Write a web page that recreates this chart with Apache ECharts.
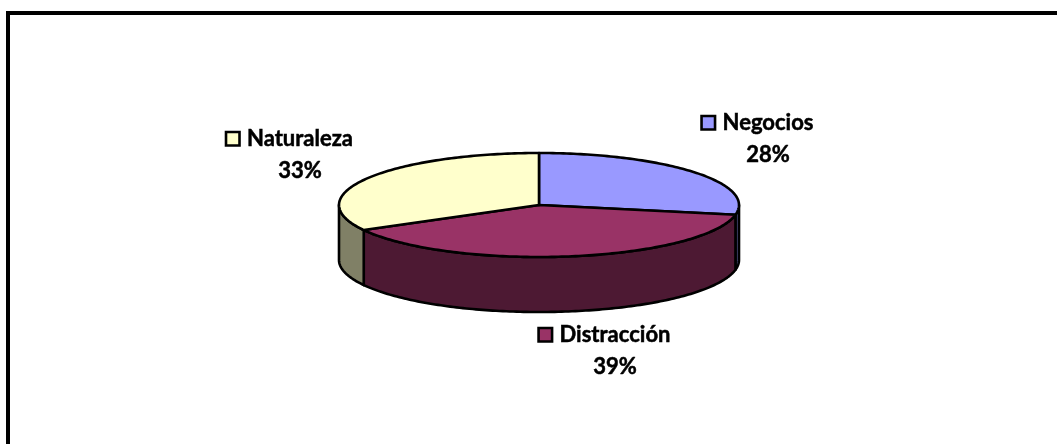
<!DOCTYPE html>
<html>
<head>
<meta charset="utf-8">
<style>
  html, body { margin: 0; padding: 0; background: #fff; }
  #chart1 { width: 1057px; height: 444px; }
</style>
<script src="https://cdn.jsdelivr.net/npm/echarts@6/dist/echarts.min.js"></script>
</head>
<body>
<div id="chart1"></div>
<script>
const categories = ["Negocios", "Distracción", "Naturaleza"];
const shares = [28, 39, 33];
const topColors = ["#9999FF", "#993366", "#FFFFCC"];
const sideColors = ["#4D4D80", "#4D1933", "#808066"];

// pie drawn as a tilted disc, angles run clockwise from 12 o'clock
const cx = 539, cy = 205, rx = 200, ry = 52, depth = 55;
const labelPos = [[768, 123], [615, 335], [300, 139]];
const total = shares.reduce((a, b) => a + b, 0);

const ell = (deg, drop) => {
  const r = deg * Math.PI / 180;
  return [cx + rx * Math.sin(r), cy - ry * Math.cos(r) + (drop || 0)];
};
const arc = (from, to, drop) => {
  const pts = [];
  const n = Math.max(2, Math.ceil(Math.abs(to - from)));
  for (let i = 0; i <= n; i++) pts.push(ell(from + (to - from) * i / n, drop));
  return pts;
};
const sliceAngles = (idx) => {
  let sum = 0;
  for (let i = 0; i < idx; i++) sum += shares[i];
  return [sum / total * 360, (sum + shares[idx]) / total * 360];
};
const lineStyle = { stroke: "#000", lineWidth: 2.6, lineJoin: "round" };

const renderSide = (params, api) => {
  const i = params.dataIndex;
  const [a0, a1] = sliceAngles(i);
  // only the front half of the rim (90..270) can be seen
  const from = Math.max(a0, 90), to = Math.min(a1, 270);
  if (to <= from) return null;
  return {
    type: "polygon",
    shape: { points: arc(from, to, 0).concat(arc(to, from, depth)) },
    style: Object.assign({ fill: sideColors[i] }, lineStyle)
  };
};

const renderTop = (params, api) => {
  const i = params.dataIndex;
  const [a0, a1] = sliceAngles(i);
  return {
    type: "polygon",
    shape: { points: [[cx, cy]].concat(arc(a0, a1, 0)) },
    style: Object.assign({ fill: topColors[i] }, lineStyle)
  };
};

const labelFont = "bold 22px Lato, Carlito, sans-serif";
const measure = document.createElement("canvas").getContext("2d");

const renderLabel = (params, api) => {
  const i = params.dataIndex;
  const [x, y] = labelPos[i];
  const name = api.value(0);
  measure.font = labelFont;
  const w = measure.measureText(name).width;
  // thin outline, the reference text is heavier than Lato bold
  const textStyle = { font: labelFont, fill: "#000", stroke: "#000", lineWidth: 0.5, align: "center", verticalAlign: "middle" };
  return {
    type: "group",
    children: [
      {
        type: "rect",
        shape: { x: x - w / 2 - 21, y: y - 7, width: 13.5, height: 13.5 },
        style: { fill: topColors[i], stroke: "#000", lineWidth: 2.6 }
      },
      {
        type: "text",
        style: Object.assign({ x: x, y: y, text: name }, textStyle)
      },
      {
        type: "text",
        style: Object.assign({ x: x, y: y + 32, text: api.value(1) + "%" }, textStyle)
      }
    ]
  };
};

const seriesData = categories.map((c, i) => [c, shares[i]]);

const initCharts = () => {
  const chart1 = echarts.init(document.getElementById("chart1"));
  chart1.setOption({
    animation: false,
    backgroundColor: "#fff",
    graphic: [{
      type: "rect",
      shape: { x: 8, y: 13, width: 1100, height: 500 },
      style: { fill: "none", stroke: "#000", lineWidth: 4 }
    }],
    series: [
      { type: "custom", coordinateSystem: "none", renderItem: renderSide, data: seriesData, z: 2 },
      { type: "custom", coordinateSystem: "none", renderItem: renderTop, data: seriesData, z: 3 },
      { type: "custom", coordinateSystem: "none", renderItem: renderLabel, data: seriesData, z: 4 }
    ]
  });
};

document.addEventListener("DOMContentLoaded", initCharts);
</script>
</body>
</html>
